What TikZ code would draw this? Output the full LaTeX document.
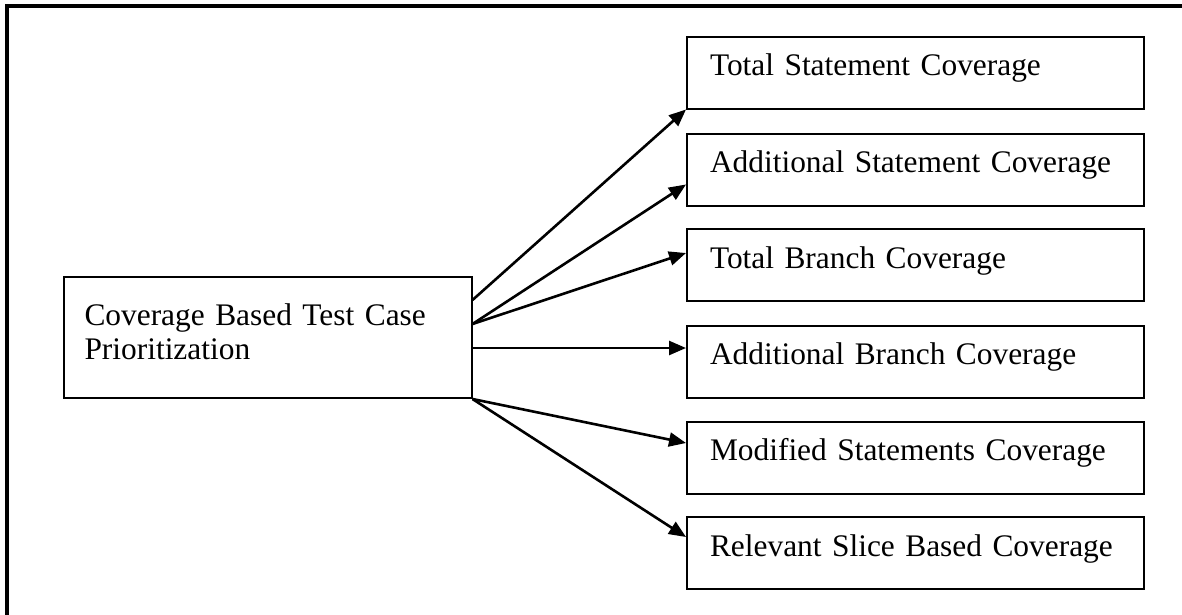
\documentclass[tikz,border=0pt]{standalone}
\usepackage{fontspec}
\setmainfont{Liberation Serif}
\usetikzlibrary{arrows.meta,calc}
\begin{document}
\begin{tikzpicture}[x=1pt,y=-1pt,
  txt/.style={font=\fontsize{31.4pt}{34pt}\selectfont},
  leaf/.style={draw, line width=2pt, anchor=north west, txt,
    inner xsep=23pt, inner ysep=0pt, text width=411pt, align=left,
    text height=39pt, text depth=33pt},
  root/.style={draw, line width=2pt, anchor=north west, txt,
    inner xsep=21pt, inner ysep=0pt, text width=366pt, align=left,
    text height=48pt, text depth=73pt},
  arr/.style={line width=2.6pt, -{Triangle[length=17pt,width=14pt]}}]
\useasboundingbox (0,0) rectangle (1182,614);
% outer frame (top and left edges)
\draw[line width=3.5pt] (7,620) -- (7,6) -- (1190,6);
% root box
\node[root] (src) at (62.5,276) {Coverage Based Test Case\\Prioritization};
% technique boxes
\node[leaf] (t1) at (686,35.5)  {Total Statement Coverage};
\node[leaf] (t2) at (686,132.5) {Additional Statement Coverage};
\node[leaf] (t3) at (686,228)   {Total Branch Coverage};
\node[leaf] (t4) at (686,324.5) {Additional Branch Coverage};
\node[leaf] (t5) at (686,420.5) {Modified Statements Coverage};
\node[leaf] (t6) at (686,516)   {Relevant Slice Based Coverage};
% connectors
\draw[arr] ($(src.north east)+(0,24)$) -- (t1.south west);
\draw[arr] ($(src.north east)+(0,48)$) -- ($(t2.south west)+(0,-22)$);
\draw[arr] ($(src.north east)+(0,48)$) -- ($(t3.north west)+(0,25)$);
\draw[arr] ($(src.north east)+(0,72)$) -- ($(t4.north west)+(0,23.5)$);
\draw[arr] (src.south east) -- ($(t5.north west)+(0,22.5)$);
\draw[arr] (src.south east) -- ($(t6.north west)+(0,21)$);
\end{tikzpicture}
\end{document}
